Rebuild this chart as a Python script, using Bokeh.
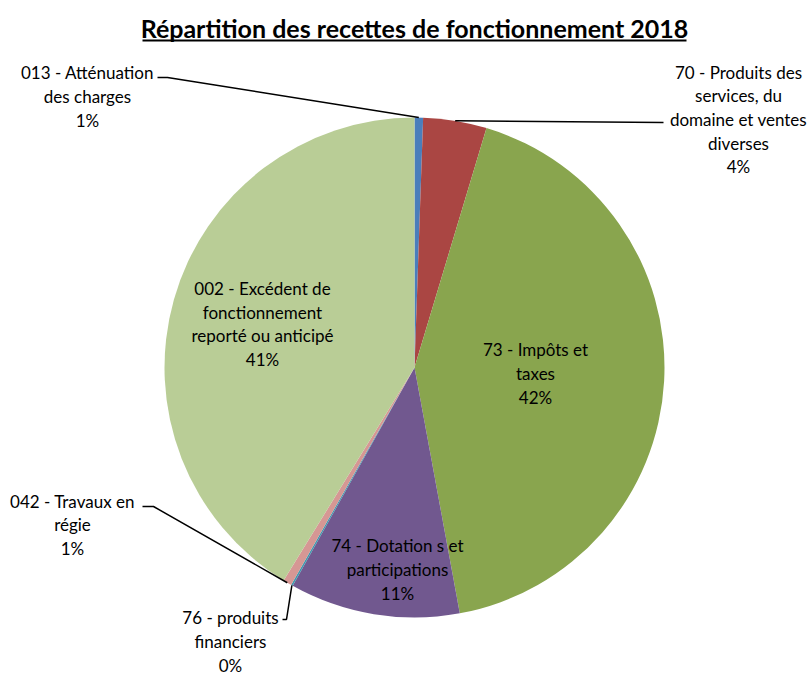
import math
from bokeh.plotting import figure
from bokeh.models import Range1d, ColumnDataSource
from bokeh.core.properties import value
from bokeh.embed import file_html
from bokeh.resources import INLINE

# ---- data ----
categories = [
    "013 - Atténuation\ndes charges",
    "70 - Produits des\nservices, du\ndomaine et ventes\ndiverses",
    "73 - Impôts et\ntaxes",
    "74 - Dotation s et\nparticipations",
    "76 - produits\nfinanciers",
    "042 - Travaux en\nrégie",
    "002 - Excédent de\nfonctionnement\nreporté ou anticipé",
]
shares = [0.55, 4.1, 42.45, 11.0, 0.12, 0.55, 41.23]
pct_labels = ["1%", "4%", "42%", "11%", "0%", "1%", "41%"]
colors = ["#4A7EBB", "#AA4643", "#89A54E", "#71588F", "#4198AF", "#D69794", "#B9CD96"]
title_text = "Répartition des recettes de fonctionnement 2018"

# ---- layout (screen px) ----
W, H = 811, 678
def Y(sy):
    return H - sy

cx, cy, R = 414, Y(367), 250

p = figure(width=W, height=H, x_range=Range1d(0, W), y_range=Range1d(0, H),
           output_backend="svg", toolbar_location=None, min_border=0,
           x_axis_type=None, y_axis_type=None)
p.grid.visible = False
p.outline_line_color = None
p.background_fill_color = "white"

total = sum(shares)
starts, ends, mids = [], [], []
cum = 0.0
for s in shares:
    a0 = cum / total
    cum += s
    a1 = cum / total
    starts.append(math.pi / 2 - 2 * math.pi * a1)
    ends.append(math.pi / 2 - 2 * math.pi * a0)
    mids.append(math.pi / 2 - 2 * math.pi * (a0 + a1) / 2)

src = ColumnDataSource(dict(start=starts, end=ends, color=colors))
p.wedge(x=cx, y=cy, radius=R, start_angle="start", end_angle="end",
        fill_color="color", line_color=None, source=src)

# label positions (screen coords): block centres
label_pos = [(87, 96), (738, 119), (535, 373), (397, 569), (230, 641), (72, 524.5), (262, 323.5)]
texts = [c + "\n" + pl for c, pl in zip(categories, pct_labels)]
p.text(x=[lp[0] for lp in label_pos], y=[Y(lp[1]) for lp in label_pos], text=texts,
       text_font=value("Lato"), text_font_size="17px", text_align="center",
       text_baseline="middle", text_line_height=1.13, text_color="#000000")

# leader lines: from label side to slice edge (mid-angle)
def edge(i):
    return (cx + R * math.cos(mids[i]), cy + R * math.sin(mids[i]))

leaders = {
    0: [(157, 77), (167, 77)],
    1: [(663, 122)],
    5: [(142, 506), (153, 506)],
    4: [(282, 619), (286, 619)],
}
xs, ys = [], []
for i, pts in leaders.items():
    ex, ey = edge(i)
    xs.append([q[0] for q in pts] + [ex])
    ys.append([Y(q[1]) for q in pts] + [ey])
p.multi_line(xs=xs, ys=ys, line_color="black", line_width=1.5)

# title
p.text(x=[414], y=[Y(27)], text=[title_text], text_font=value("Lato"), text_font_size="25px",
       text_font_style="bold", text_align="center", text_baseline="middle", text_color="black")
p.segment(x0=[142], y0=[Y(40)], x1=[686], y1=[Y(40)], line_color="black", line_width=2)

open("out.html", "w").write(file_html(p, INLINE))
